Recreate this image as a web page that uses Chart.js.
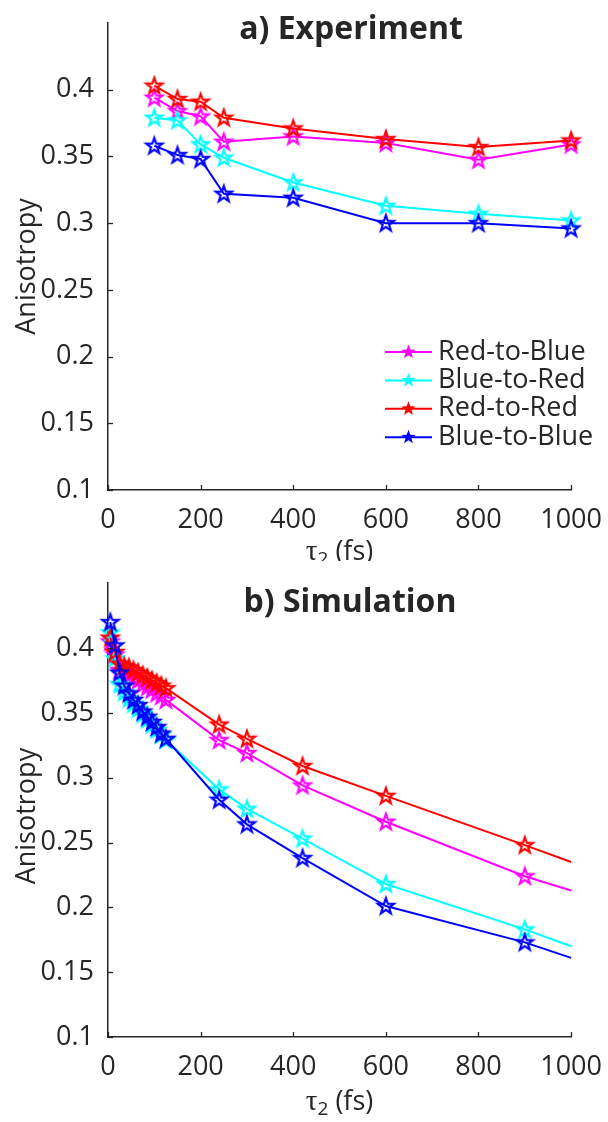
<!DOCTYPE html>
<html>
<head>
<meta charset="utf-8">
<script src="https://cdn.jsdelivr.net/npm/chart.js@4.4.1/dist/chart.umd.min.js"></script>
<style>
  html, body { margin: 0; padding: 0; background: #ffffff; }
  .panel { position: relative; width: 608px; height: 561px; }
  canvas { display: block; }
</style>
</head>
<body>
<div class="panel"><canvas id="expChart" width="608" height="561"></canvas></div>
<div class="panel"><canvas id="simChart" width="608" height="561"></canvas></div>
<script>
// ---- data ----
const seriesNames  = ['Red-to-Blue', 'Blue-to-Red', 'Red-to-Red', 'Blue-to-Blue'];
const seriesColors = ['#ff00ff', '#00ffff', '#ff0000', '#0000ff'];

// a) Experiment
const expTimes      = [100, 150, 200, 250, 400, 600, 800, 1000];
const expRedToBlue  = [0.394, 0.384, 0.380, 0.361, 0.365, 0.360, 0.3475, 0.359];
const expBlueToRed  = [0.379, 0.377, 0.359, 0.349, 0.3305, 0.313, 0.307, 0.302];
const expRedToRed   = [0.403, 0.393, 0.391, 0.379, 0.371, 0.363, 0.357, 0.362];
const expBlueToBlue = [0.358, 0.351, 0.348, 0.322, 0.319, 0.300, 0.300, 0.296];

// b) Simulation (last entry, at 1000 fs, carries the line only)
const simTimes      = [5, 15, 25, 35, 45, 55, 65, 75, 85, 95, 105, 115, 125, 240, 300, 420, 600, 900, 1000];
const simRedToBlue  = [0.405, 0.395, 0.383, 0.381, 0.379, 0.377, 0.375, 0.372, 0.370, 0.368, 0.365, 0.363, 0.360, 0.329, 0.319, 0.294, 0.266, 0.224, 0.213];
const simBlueToRed  = [0.412, 0.392, 0.372, 0.366, 0.361, 0.357, 0.353, 0.349, 0.345, 0.341, 0.337, 0.333, 0.329, 0.291, 0.276, 0.253, 0.218, 0.183, 0.170];
const simRedToRed   = [0.408, 0.397, 0.388, 0.386, 0.385, 0.383, 0.381, 0.379, 0.377, 0.375, 0.373, 0.371, 0.369, 0.341, 0.330, 0.309, 0.286, 0.248, 0.235];
const simBlueToBlue = [0.420, 0.402, 0.381, 0.371, 0.365, 0.360, 0.356, 0.351, 0.347, 0.343, 0.339, 0.334, 0.330, 0.283, 0.264, 0.238, 0.201, 0.173, 0.161];

const yTickValues = [0.1, 0.15, 0.2, 0.25, 0.3, 0.35, 0.4];
const xTickValues = [0, 200, 400, 600, 800, 1000];

// ---- styling ----
const INK = '#262626';
const FONT = '"Open Sans", "DejaVu Sans", sans-serif';
const TICK_SIZE = 27;

// pentagram path
function starPath(g, cx, cy, R, r) {
  g.beginPath();
  for (let k = 0; k < 10; k++) {
    const ang = -Math.PI / 2 + k * Math.PI / 5;
    const rad = (k % 2 === 0) ? R : r;
    const px = cx + rad * Math.cos(ang);
    const py = cy + rad * Math.sin(ang);
    if (k === 0) g.moveTo(px, py); else g.lineTo(px, py);
  }
  g.closePath();
}

// hollow star marker used on the data points
function makeStarMarker(color, R, lw) {
  const c = document.createElement('canvas');
  const s = Math.ceil(2 * R + lw * 2 + 4);
  c.width = s; c.height = s;
  const g = c.getContext('2d');
  starPath(g, s / 2, s / 2 + 0.5, R, R * 0.4);
  g.lineJoin = 'miter';
  g.strokeStyle = color;
  g.lineWidth = lw;
  g.stroke();
  return c;
}

// legend swatch: filled star on a short line
function drawLegendStar(g, cx, cy, R, color) {
  starPath(g, cx, cy, R, R * 0.42);
  g.fillStyle = color;
  g.fill();
}

function makeDatasets(times, seriesList, hideLastMarker) {
  return seriesList.map((vals, i) => {
    const marker = makeStarMarker(seriesColors[i], 8.4, 2.2);
    const radii = vals.map((_, j) => (hideLastMarker && j === vals.length - 1) ? 0 : 9);
    return {
      label: seriesNames[i],
      data: times.map((t, j) => ({ x: t, y: vals[j] })),
      borderColor: seriesColors[i],
      backgroundColor: seriesColors[i],
      borderWidth: 2,
      pointStyle: marker,
      pointRadius: radii,
      pointHoverRadius: radii,
      tension: 0,
      clip: false,
      order: 4 - i
    };
  });
}

// inward tick marks on the left and bottom axes
const inwardTicks = {
  id: 'inwardTicks',
  afterDraw(chart) {
    const { ctx, chartArea: a, scales: { x, y } } = chart;
    ctx.save();
    ctx.strokeStyle = INK;
    ctx.lineWidth = 1.3;
    x.ticks.forEach(t => {
      const px = Math.round(x.getPixelForValue(t.value)) + 0.5;
      ctx.beginPath(); ctx.moveTo(px, a.bottom); ctx.lineTo(px, a.bottom - 5); ctx.stroke();
    });
    y.ticks.forEach(t => {
      const py = Math.round(y.getPixelForValue(t.value)) + 0.5;
      ctx.beginPath(); ctx.moveTo(a.left, py); ctx.lineTo(a.left + 5, py); ctx.stroke();
    });
    ctx.restore();
  }
};

// panel title and axis titles
const panelText = {
  id: 'panelText',
  afterDraw(chart, args, opts) {
    const { ctx, chartArea: a } = chart;
    ctx.save();
    ctx.fillStyle = INK;
    // title
    ctx.font = 'bold 32px ' + FONT;
    ctx.textAlign = 'center';
    ctx.textBaseline = 'middle';
    ctx.fillText(opts.title, opts.titleX, opts.titleY);
    // x axis title: tau with subscript 2
    const cx = (a.left + a.right) / 2;
    const parts = [
      { t: '\u03C4', f: '29px "Liberation Serif", "DejaVu Serif", serif', dy: 0 },
      { t: '2', f: '19px ' + FONT, dy: 8 },
      { t: ' (fs)', f: TICK_SIZE + 'px ' + FONT, dy: 0 }
    ];
    let total = 0;
    parts.forEach(p => { ctx.font = p.f; p.w = ctx.measureText(p.t).width; total += p.w; });
    let xx = cx - total / 2;
    ctx.textAlign = 'left';
    parts.forEach(p => { ctx.font = p.f; ctx.fillText(p.t, xx, opts.xLabelY + p.dy); xx += p.w; });
    // y axis title
    ctx.translate(opts.yLabelX, (a.top + a.bottom) / 2 + opts.yLabelShift);
    ctx.rotate(-Math.PI / 2);
    ctx.font = TICK_SIZE + 'px ' + FONT;
    ctx.textAlign = 'center';
    ctx.fillText('Anisotropy', 0, 0);
    ctx.restore();
  }
};

// legend block inside the experiment panel
const insideLegend = {
  id: 'insideLegend',
  afterDraw(chart, args, opts) {
    if (!opts.show) return;
    const { ctx } = chart;
    ctx.save();
    chart.data.datasets.forEach((ds, i) => {
      const yy = opts.top + i * opts.rowGap;
      ctx.strokeStyle = ds.borderColor;
      ctx.lineWidth = 2;
      ctx.beginPath(); ctx.moveTo(opts.left, yy); ctx.lineTo(opts.left + 47, yy); ctx.stroke();
      drawLegendStar(ctx, opts.left + 23.5, yy, 7.5, ds.borderColor);
      ctx.fillStyle = INK;
      ctx.font = TICK_SIZE + 'px ' + FONT;
      ctx.textAlign = 'left';
      ctx.textBaseline = 'middle';
      ctx.fillText(ds.label, opts.left + 53, yy);
    });
    ctx.restore();
  }
};

function axisOptions(xAxisHeight) {
  return {
    x: {
      type: 'linear', min: 0, max: 1000,
      afterBuildTicks: s => { s.ticks = xTickValues.map(v => ({ value: v })); },
      afterFit: s => { s.height = xAxisHeight; },
      grid: { display: false },
      border: { display: true, color: INK, width: 1.5 },
      ticks: { color: INK, font: { family: FONT, size: TICK_SIZE }, padding: 6, maxRotation: 0, autoSkip: false,
               callback: v => String(v) }
    },
    y: {
      type: 'linear', min: 0.1, max: 0.45,
      afterBuildTicks: s => { s.ticks = yTickValues.map(v => ({ value: v })); },
      afterFit: s => { s.width = 108; },
      grid: { display: false },
      border: { display: true, color: INK, width: 1.5 },
      ticks: { color: INK, font: { family: FONT, size: TICK_SIZE }, padding: 6,
               callback: v => String(+Number(v).toFixed(2)) }
    }
  };
}

function buildChart(id, datasets, cfg) {
  return new Chart(document.getElementById(id), {
    type: 'line',
    data: { datasets },
    options: {
      responsive: false,
      animation: false,
      events: [],
      layout: { padding: { left: 0, right: 33, top: cfg.top, bottom: 0 } },
      scales: axisOptions(cfg.xAxisHeight),
      plugins: {
        legend: { display: false },
        tooltip: { enabled: false },
        panelText: cfg.text,
        insideLegend: cfg.legend
      }
    },
    plugins: [inwardTicks, panelText, insideLegend]
  });
}

function drawAll() {
  buildChart('expChart',
    makeDatasets(expTimes, [expRedToBlue, expBlueToRed, expRedToRed, expBlueToBlue], false),
    {
      top: 23, xAxisHeight: 71,
      text: { title: 'a) Experiment', titleX: 351, titleY: 30, xLabelY: 552, yLabelX: 27, yLabelShift: 10 },
      legend: { show: true, left: 385, top: 352, rowGap: 28.4 }
    });
  buildChart('simChart',
    makeDatasets(simTimes, [simRedToBlue, simBlueToRed, simRedToRed, simBlueToBlue], true),
    {
      top: 21, xAxisHeight: 85,
      text: { title: 'b) Simulation', titleX: 350, titleY: 42, xLabelY: 541, yLabelX: 27, yLabelShift: 6 },
      legend: { show: false }
    });
}

const fontLoads = [
  document.fonts.load('27px "Open Sans"'),
  document.fonts.load('bold 32px "Open Sans"'),
  document.fonts.load('29px "Liberation Serif"')
];
Promise.race([
  Promise.all(fontLoads),
  new Promise(r => setTimeout(r, 800))
]).then(drawAll, drawAll);
</script>
</body>
</html>
